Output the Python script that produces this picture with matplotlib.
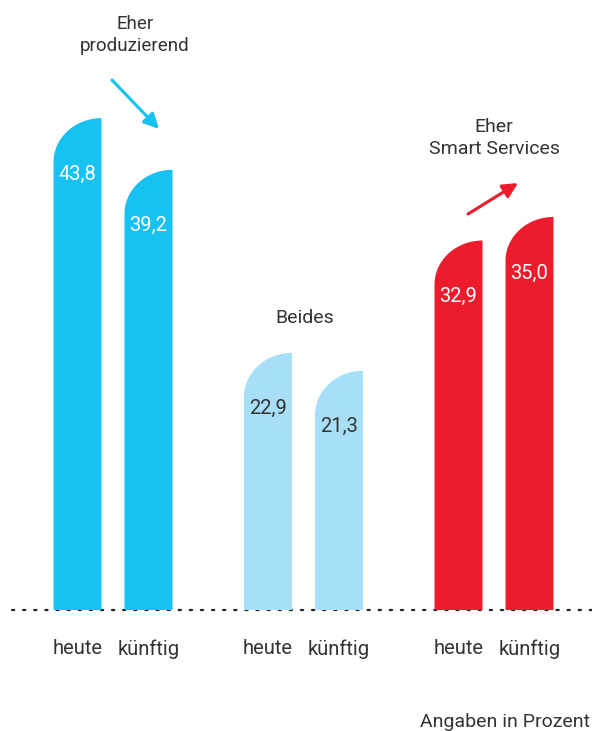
import numpy as np
import matplotlib
matplotlib.use("Agg")
import matplotlib.pyplot as plt
from matplotlib.patches import Polygon

# ---- data ----
groups = ["Eher\nproduzierend", "Beides", "Eher\nSmart Services"]
periods = ["heute", "künftig"]
heute = [43.8, 22.9, 32.9]
kuenftig = [39.2, 21.3, 35.0]
value_labels_heute = ["43,8", "22,9", "32,9"]
value_labels_kuenftig = ["39,2", "21,3", "35,0"]
note = "Angaben in Prozent"

# ---- style ----
colors = ["#17C1F2", "#A8DFF8", "#EC1C2D"]
label_colors = ["white", "#333333", "white"]
text_color = "#333333"
FONT = ["Roboto", "DejaVu Sans"]

W, H = 592, 731
fig = plt.figure(figsize=(W / 100, H / 100), dpi=100)
ax = fig.add_axes([0, 0, 1, 1])

# pixel <-> data mapping (layout only)
GX0, GSP = 113.0, 190.5     # pixel x of group 0 and group spacing
BASE, PPU = 610.0, 11.23    # baseline pixel y and pixels per unit
def dx(px): return (px - GX0) / GSP
def dy(py): return (BASE - py) / PPU

ax.set_xlim(dx(0), dx(W))
ax.set_ylim(dy(H), dy(0))
ax.axis("off")

bar_w = 48 / GSP
offset = 35.5 / GSP
ry = 44 / PPU

def rounded_bar(xc, v, color):
    x0, x1 = xc - bar_w / 2, xc + bar_w / 2
    t = np.linspace(np.pi / 2, np.pi, 40)
    ax_ = x1 + bar_w * np.cos(t)
    ay_ = (v - ry) + ry * np.sin(t)
    pts = [(x0, 0), (x1, 0), (x1, v)] + list(zip(ax_, ay_)) + [(x0, 0)]
    ax.add_patch(Polygon(pts, closed=True, facecolor=color, edgecolor="none", zorder=2))

label_drop = 56 / PPU
for i in range(len(groups)):
    for j, (vals, labs) in enumerate([(heute, value_labels_heute), (kuenftig, value_labels_kuenftig)]):
        xc = i + (-offset if j == 0 else offset)
        v = vals[i]
        rounded_bar(xc, v, colors[i])
        ax.text(xc, v - label_drop, labs[i], ha="center", va="center",
                color=label_colors[i], fontsize=14.5, family=FONT, zorder=3)
        ax.text(xc, dy(649), periods[j], ha="center", va="center",
                color=text_color, fontsize=14.5, family=FONT)

# dotted baseline
ax.plot([dx(12), dx(592)], [0, 0], linestyle=(0, (1, 4)), color="#222222",
        linewidth=1.6, zorder=1, solid_capstyle="round", dash_capstyle="round")

# group titles
ax.text(dx(135), dy(35), groups[0], ha="center", va="center", color=text_color,
        fontsize=13.5, family=FONT, linespacing=1.25)
ax.text(dx(305), dy(318), groups[1], ha="center", va="center", color=text_color,
        fontsize=14, family=FONT)
ax.text(dx(494), dy(138), groups[2], ha="center", va="center", color=text_color,
        fontsize=14, family=FONT, linespacing=1.25)

# arrows
ax.annotate("", xy=(dx(159), dy(129)), xytext=(dx(112), dy(80)),
            arrowprops=dict(arrowstyle="-|>,head_length=0.9,head_width=0.45",
                            color=colors[0], lw=2.2, shrinkA=0, shrinkB=0))
ax.annotate("", xy=(dx(518), dy(183)), xytext=(dx(468), dy(214)),
            arrowprops=dict(arrowstyle="-|>,head_length=0.9,head_width=0.45",
                            color=colors[2], lw=2.2, shrinkA=0, shrinkB=0))

ax.text(dx(590), dy(722), note, ha="right", va="center", color=text_color,
        fontsize=14, family=FONT)

fig.savefig("out.png", dpi=100)
